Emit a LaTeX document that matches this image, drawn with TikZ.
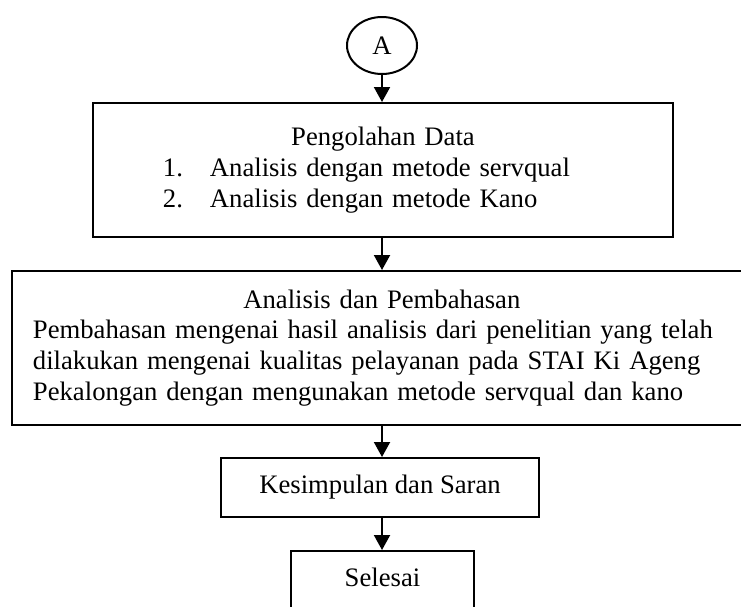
\documentclass[tikz,border=0pt]{standalone}
\usepackage{fontspec}
\setmainfont{Liberation Serif}
\usetikzlibrary{shapes.geometric, arrows.meta, positioning}

\begin{document}
\begin{tikzpicture}[
    x=0.45pt, y=-0.45pt,
    every node/.style={font=\fontsize{12pt}{13.9pt}\selectfont},
    box/.style={draw, line width=0.9pt, inner sep=0pt},
    connector/.style={draw, ellipse, line width=0.9pt, inner sep=0pt, minimum width=31.5pt, minimum height=25.65pt},
    arrow/.style={-{Triangle[length=6.75pt, width=7.2pt]}, line width=0.9pt}
]
\useasboundingbox (0,0) rectangle (741,606);

% Connector
\node[connector] (a) at (382,45.5) {A};

% Processing
\node[box, minimum width=261pt, minimum height=60.3pt, text width=261pt, align=left] (pengolahan) at (383,170) {%
    \makebox[261pt]{Pengolahan Data}\\
    \hspace*{31.5pt}\makebox[21.15pt][l]{1.}Analisis dengan metode servqual\\
    \hspace*{31.5pt}\makebox[21.15pt][l]{2.}Analisis dengan metode Kano\\[8pt]};

% Analysis
\node[box, minimum width=345.6pt, minimum height=69.3pt, inner xsep=9.45pt, text width=326.7pt, align=left] (analisis) at (396,348) {%
    \makebox[314pt]{Analisis dan Pembahasan}\\
    Pembahasan mengenai hasil analisis dari penelitian yang telah\\
    dilakukan mengenai kualitas pelayanan pada STAI Ki Ageng\\
    Pekalongan dengan mengunakan metode servqual dan kano};

% Conclusion
\node[box, minimum width=143.1pt, minimum height=26.55pt] (kesimpulan) at (380,487.5) {Kesimpulan dan Saran};

% End
\node[box, anchor=north, minimum width=82.35pt, text height=8pt, text depth=30pt, inner ysep=8pt] (selesai) at (382.5,550) {Selesai};

% Arrows
\draw[arrow] (a.south) -- (a.south |- pengolahan.north);
\draw[arrow] (pengolahan.south -| a.south) -- (analisis.north -| a.south);
\draw[arrow] (analisis.south -| a.south) -- (kesimpulan.north -| a.south);
\draw[arrow] (kesimpulan.south -| a.south) -- (selesai.north -| a.south);

\end{tikzpicture}
\end{document}
